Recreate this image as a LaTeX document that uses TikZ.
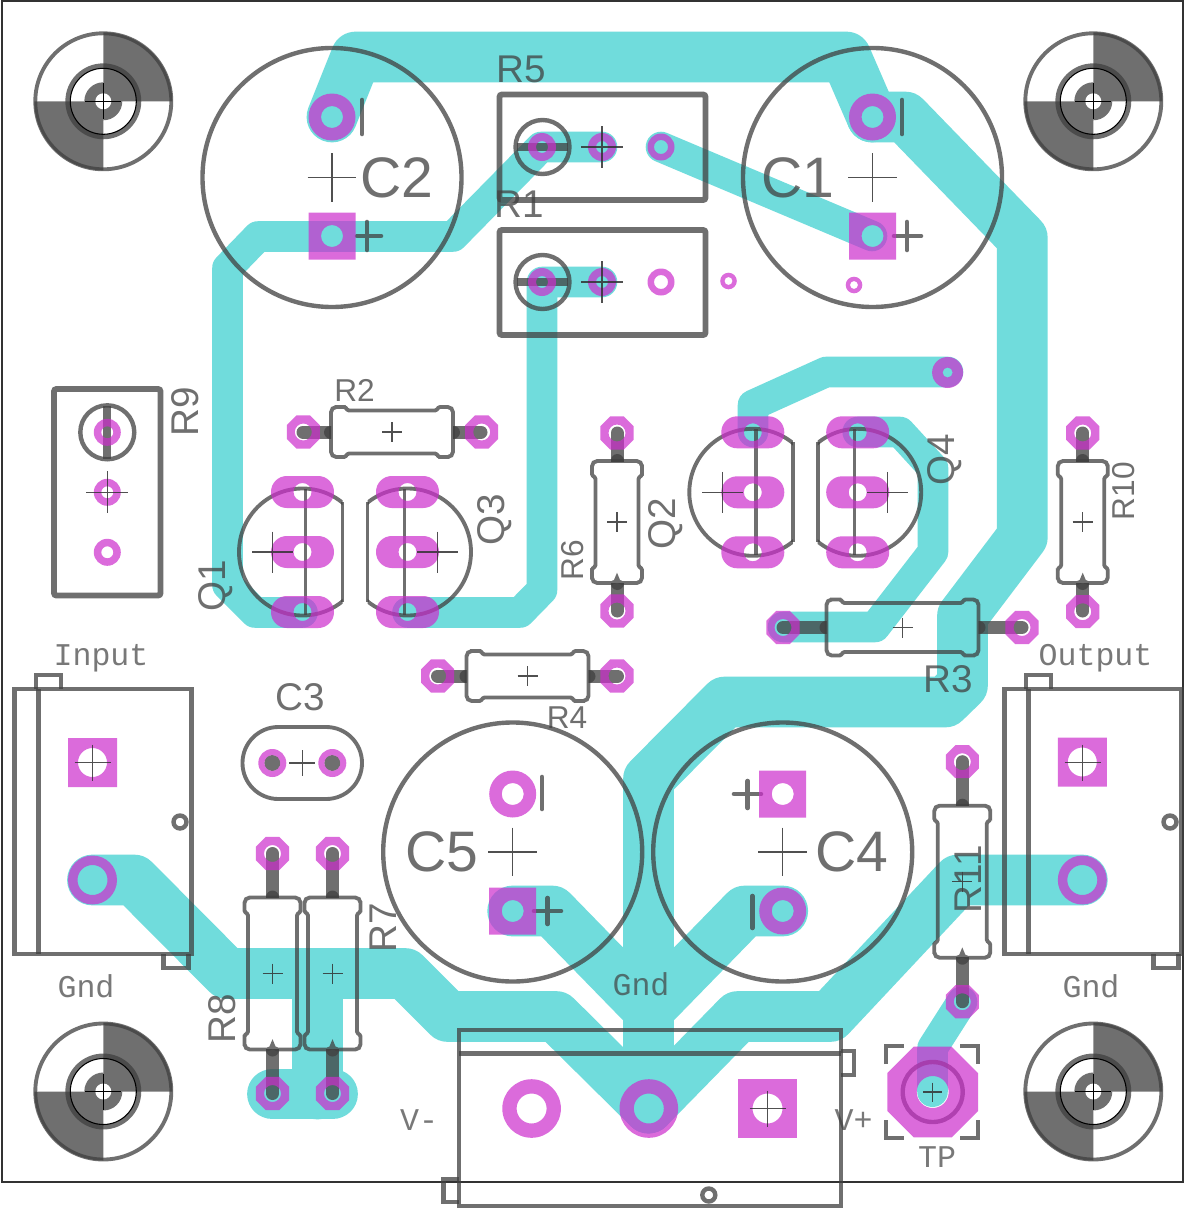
\documentclass[tikz,border=0pt]{standalone}
\usepackage{fontspec}
\setmainfont{Liberation Sans}
\newfontfamily\vecfont{Liberation Mono}
\definecolor{copperside}{RGB}{112,220,220}
\definecolor{padcolor}{RGB}{205,45,205}
\definecolor{silkgray}{RGB}{64,64,64}
\definecolor{crossgray}{RGB}{50,50,50}

\tikzset{
    tracewide/.style={draw=copperside, line width=28.9pt, line join=round, line cap=round},
    tracenarrow/.style={draw=copperside, line width=17.4pt, line join=round, line cap=round},
    padfill/.style={fill=padcolor, opacity=.7, even odd rule},
    silk/.style={draw=silkgray, line width=2.5pt, opacity=.75},
    silkfill/.style={fill=silkgray, opacity=.75},
    silklead/.style={draw=silkgray, line width=7.4pt, line cap=round, opacity=.75},
    silkmark/.style={draw=silkgray, line width=2.6pt, line cap=round, opacity=.75},
    crossline/.style={draw=crossgray, line width=.6pt, opacity=.85},
    bigref/.style={font=\fontsize{32.5}{34}\selectfont, text=silkgray, text opacity=.75, inner sep=0pt},
    midref/.style={font=\fontsize{22}{24}\selectfont, text=silkgray, text opacity=.75, inner sep=0pt},
    smallref/.style={font=\fontsize{18}{20}\selectfont, text=silkgray, text opacity=.75, inner sep=0pt},
    vecref/.style={font=\vecfont\fontsize{18}{20}\selectfont, text=silkgray, text opacity=.7, inner sep=0pt, anchor=base},
}

\newcommand{\padround}[4]{\fill[padfill] (#1,#2) circle[radius=#3] (#1,#2) circle[radius=#4];}
\newcommand{\padsquare}[4]{\fill[padfill] ({#1-#3},{#2-#3}) rectangle ({#1+#3},{#2+#3}) (#1,#2) circle[radius=#4];}
\newcommand{\padocta}[4]{\fill[padfill,shift={(#1,#2)}] (22.5:#3) -- (67.5:#3) -- (112.5:#3) -- (157.5:#3) -- (202.5:#3) -- (247.5:#3) -- (292.5:#3) -- (337.5:#3) -- cycle (0,0) circle[radius=#4];}
\newcommand{\padlong}[2]{\fill[padfill,rounded corners=9pt] ({#1-31.5},{#2-16}) rectangle ({#1+31.5},{#2+16}) (#1,#2) circle[radius=9];}
\newcommand{\crossmark}[3]{\draw[crossline] ({#1-#3},#2) -- ({#1+#3},#2) (#1,{#2-#3}) -- (#1,{#2+#3});}

% x, y, angle, half length, half width, pad distance
\newcommand{\resistorbody}[6]{
    \begin{scope}[shift={(#1,#2)},rotate=#3]
        \draw[silk,line width=2.2pt,rounded corners=3pt] (-#4,0) -- (-#4,-#5) -- ({-#4+9},-#5)
            [rounded corners=.6pt] -- ({-#4+14},-#5) -- ({-#4+17},{-#5+3.5}) -- ({#4-17},{-#5+3.5}) -- ({#4-14},-#5) -- ({#4-9},-#5)
            [rounded corners=3pt] -- (#4,-#5) -- (#4,#5) -- ({#4-9},#5)
            [rounded corners=.6pt] -- ({#4-14},#5) -- ({#4-17},{#5-3.5}) -- ({-#4+17},{#5-3.5}) -- ({-#4+14},#5) -- ({-#4+9},#5)
            [rounded corners=3pt] -- (-#4,#5) -- (-#4,0) -- cycle;
        \foreach \s in {1,-1}{
            \begin{scope}[xscale=\s]
                \clip (#4,-10) rectangle (#6+20,10);
                \draw[silklead] (#6,0) -- (#4,0);
                \draw[silklead] (#4,0) -- (#4+0.5,0);
            \end{scope}
        }
    \end{scope}
}

% x, y, side of the flat edge
\newcommand{\transistorbody}[3]{
    \begin{scope}[shift={(#1,#2)},xscale=#3]
        \begin{scope}
            \clip (-70,-70) rectangle (40,70);
            \draw[silk,line width=2.2pt] (0,0) circle[radius=63.5];
        \end{scope}
        \draw[silk,line width=2.2pt] (40,-50) -- (40,50);
        \draw[silk,line width=2pt] (3,-63) -- (3,63);
    \end{scope}
}

\begin{document}
\begin{tikzpicture}[x=0.02cm,y=-0.02cm]

    \useasboundingbox (0,0) rectangle (1184,1210);
    \fill[white] (0,0) rectangle (1184,1210);

    % copper
    \draw[tracewide] (332,117) -- (356,57) -- (846,57) -- (872,117);
    \draw[tracewide] (872,117) -- (905,117) -- (1022.3,238) -- (1022.3,537) -- (962.5,616) -- (962.5,685) -- (945,702) -- (725,702) -- (648.5,779) -- (648.5,1108);
    \draw[tracewide] (512.7,911) -- (552,911) -- (648.5,1010);
    \draw[tracewide] (782.7,911) -- (745,911) -- (648.5,1010);
    \draw[tracewide] (92.5,880) -- (134,880) -- (227,973.5) -- (405,973.5) -- (448,1016.5) -- (556,1016.5) -- (648.5,1108);
    \draw[tracewide] (1082.3,880) -- (958,880) -- (830,1016.5) -- (738,1016.5) -- (648.5,1108);
    \draw[tracewide] (317.5,973.5) -- (317.5,1094);
    \draw[tracewide] (272.5,1094) -- (332.5,1094);
    \draw[tracenarrow] (602,147) -- (541,147) -- (453,236.5) -- (258,236.5) -- (227.5,268) -- (227.5,585) -- (255,612.5) -- (302.5,612.5);
    \draw[tracenarrow] (602,282) -- (542,282) -- (542,590) -- (520,612.5) -- (407.5,612.5);
    \draw[tracenarrow] (661,147) -- (872,236);
    \draw[tracenarrow] (948,372) -- (826,372) -- (753,405) -- (753,432);
    \draw[tracenarrow] (857.7,432) -- (900,432) -- (933,468) -- (933,552) -- (875,627) -- (783,627);
    \draw[tracenarrow] (962,1001.7) -- (932.5,1048) -- (932.5,1091.7);

    % board edge
    \draw[crossgray,line width=.6pt] (2,1) rectangle (1183,1182);

    % mounting holes
    \foreach \x/\y in {103.3/101.3,1093.3/101.3,103.3/1091.5,1093.3/1091.5}{
        \begin{scope}[shift={(\x,\y)}]
            \begin{scope}
                \clip (0,-72) rectangle (72,0) (-72,0) rectangle (0,72);
                \fill[silkfill] (0,0) circle[radius=69];
            \end{scope}
            \begin{scope}
                \clip (-72,-72) rectangle (0,0) (0,0) rectangle (72,72);
                \fill[silkfill] (0,0) circle[radius=19];
            \end{scope}
            \fill[white] (0,0) circle[radius=8];
            \draw[silk,line width=2.2pt] (0,0) circle[radius=68];
            \draw[silk,line width=2.8pt] (0,0) circle[radius=35.5];
            \draw[black,line width=.6pt] (0,0) circle[radius=33];
            \draw[black,line width=.6pt] (-18,0) -- (18,0) (0,-18) -- (0,18);
        \end{scope}
    }

    % electrolytics
    \foreach \x/\y in {332/177.5,872.5/177.5,512.7/852,782.7/852}{
        \draw[silk] (\x,\y) circle[radius=129.5];
    }
    \draw[silkmark] (362,100) -- (362,134);
    \draw[silkmark] (357,236) -- (381,236) (367,222) -- (367,250);
    \draw[silkmark] (902,100) -- (902,134);
    \draw[silkmark] (894,236) -- (921,236) (907,222) -- (907,250);
    \draw[silkmark] (542,777) -- (542,809);
    \draw[silkmark] (534,911) -- (561,911) (547.7,898) -- (547.7,924);
    \draw[silkmark] (734,794) -- (761,794) (747.7,781) -- (747.7,808);
    \draw[silkmark] (752.3,896) -- (752.3,928);

    % trimmers
    \draw[silk,line width=3.4pt,rounded corners=1.5pt] (499.5,94.5) rectangle (705.5,200);
    \draw[silk,line width=3.4pt,rounded corners=1.5pt] (499.5,230) rectangle (705.5,335);
    \draw[silk,line width=3.4pt,rounded corners=1.5pt] (54,389) rectangle (160.5,595.5);
    \foreach \y in {147,282}{
        \draw[silk] (542.5,\y) circle[radius=27];
        \draw[silk,line width=4.5pt] (516.5,\y) -- (567.5,\y);
    }
    \draw[silk] (107.3,432.3) circle[radius=27];
    \draw[silk,line width=4.5pt] (107.3,406) -- (107.3,459);

    % resistors
    \resistorbody{392}{432}{0}{61}{25}{89}
    \resistorbody{527.5}{676}{0}{61}{25}{90}
    \resistorbody{617}{522}{90}{61}{25}{89}
    \resistorbody{1082.7}{522}{90}{61}{25}{89}
    \resistorbody{902.5}{627.5}{0}{76}{28}{119.5}
    \resistorbody{272.5}{973.5}{90}{76}{28}{120}
    \resistorbody{332.5}{973.5}{90}{76}{28}{120}
    \resistorbody{962.3}{881.7}{90}{76}{28}{120}

    % transistors
    \transistorbody{302.5}{552}{1}
    \transistorbody{407.5}{552}{-1}
    \transistorbody{752.8}{492.3}{1}
    \transistorbody{857.7}{492.3}{-1}

    % small capacitor
    \draw[silk,line width=2.2pt,rounded corners=20.4pt] (242.5,727) rectangle (362,799);
    \fill[silkfill] (272.3,763) circle[radius=8] (332.3,763) circle[radius=8];

    % screw terminals
    \foreach \x in {14.5,1004.5}{
        \begin{scope}[shift={(\x,0)}]
            \draw[silk] (0,689) rectangle (177,954);
            \draw[silk] (24,689) -- (24,954);
            \draw[silk] (21.5,689) -- (21.5,675) -- (46.5,675) -- (46.5,689);
            \draw[silk] (149,954) -- (149,968) -- (174,968) -- (174,954);
            \draw[silk] (165.5,822) circle[radius=6.5];
        \end{scope}
    }
    \draw[silk] (459,1030) rectangle (841,1206);
    \draw[silk] (459,1053.5) -- (841,1053.5);
    \draw[silk] (841,1051) -- (854,1051) -- (854,1075) -- (841,1075);
    \draw[silk] (459,1179) -- (443.5,1179) -- (443.5,1202) -- (459,1202);
    \draw[silk] (708.8,1195) circle[radius=6.5];

    % test point
    \draw[silk] (932.7,1092) circle[radius=30];
    \draw[silk] (886,1064) -- (886,1046) -- (904,1046);
    \draw[silk] (960,1046) -- (978,1046) -- (978,1064);
    \draw[silk] (886,1120) -- (886,1138) -- (904,1138);
    \draw[silk] (960,1138) -- (978,1138) -- (978,1120);

    % pads
    \padround{332}{117}{23.5}{11}
    \padsquare{332}{236}{23.5}{11}
    \padround{872.5}{117}{23.5}{11}
    \padsquare{872.5}{236}{23.5}{11}
    \padround{512.7}{794}{23.5}{11}
    \padsquare{512.7}{911}{23.5}{11}
    \padsquare{782.7}{794}{23.5}{11}
    \padround{782.7}{911}{23.5}{11}
    \foreach \y in {147,282}{
        \padround{542}{\y}{14}{6}
        \padround{602}{\y}{14}{6}
        \padround{661}{\y}{13.5}{7}
    }
    \foreach \y in {432.3,492.3,552.3}{
        \padround{107.3}{\y}{13.5}{6}
    }
    \padround{728.5}{281}{8.3}{4}
    \padround{854}{285}{8.3}{4}
    \padround{947.6}{372.5}{15.5}{5}
    \foreach \x/\y in {302.5/492,302.5/552,302.5/612,407.5/492,407.5/552,407.5/612,752.8/432.3,752.8/492.3,752.8/552.3,857.7/432.3,857.7/492.3,857.7/552.3}{
        \padlong{\x}{\y}
    }
    \foreach \x/\y in {303.3/432,481.7/432,437.7/676,617/676,617/433,617/611,1082.7/433,1082.7/611.7,783/627.5,1022/627.5,272.5/853.5,332.5/853.5,272.5/1093.5,332.5/1093.5,962.3/761.7,962.3/1001.7}{
        \padocta{\x}{\y}{17.9}{8.5}
    }
    \padround{272.3}{763}{14}{8}
    \padround{332.3}{763}{14}{8}
    \padsquare{92.5}{762.5}{24.5}{14.5}
    \padround{92.5}{880}{24.5}{15}
    \padsquare{1082.3}{762}{24.5}{14.5}
    \padround{1082.3}{880}{24.5}{15}
    \padround{531.6}{1108.5}{29.3}{15}
    \padround{648.8}{1108.5}{29.3}{15}
    \padsquare{767.5}{1108.5}{29.3}{15}
    \padocta{932.7}{1092}{49.2}{16}

    % centre marks
    \foreach \x/\y in {332/177.5,872.5/177.5,512.7/852,782.7/852}{
        \crossmark{\x}{\y}{24.3}
    }
    \foreach \x/\y in {602/147,602/282,107.3/492.3}{
        \crossmark{\x}{\y}{21}
    }
    \foreach \x/\y in {392/432,527.5/676,617/522,1082.7/522,902.5/627.5,272.5/973.5,332.5/973.5,962.3/881.7}{
        \crossmark{\x}{\y}{10}
    }
    \foreach \x/\y in {272.5/552,437.5/552,722.8/492.3,887.7/492.3}{
        \crossmark{\x}{\y}{20.5}
    }
    \foreach \x/\y in {92.5/762.5,1082.5/762.5,767.5/1108.5}{
        \crossmark{\x}{\y}{18}
    }
    \crossmark{302.3}{763}{13}
    \crossmark{932.7}{1092}{9.5}

    % labels
    \node[bigref] (labelC2) at (397,177.5) {C2};
    \node[bigref] (labelC1) at (798,177.5) {C1};
    \node[bigref] (labelC5) at (442,852) {C5};
    \node[bigref] (labelC4) at (852,852) {C4};
    \node[midref] (labelC3) at (300,697.5) {C3};
    \node[midref] (labelR5) at (521,69) {R5};
    \node[midref] (labelR1) at (519,204) {R1};
    \node[midref] (labelR3) at (948,679) {R3};
    \node[smallref] (labelR2) at (354.5,390) {R2};
    \node[smallref] (labelR4) at (567,718) {R4};
    \node[smallref,rotate=90] (labelR6) at (573,560) {R6};
    \node[midref,rotate=90] (labelR7) at (383,928) {R7};
    \node[midref,rotate=90] (labelR8) at (222,1019) {R8};
    \node[midref,rotate=90] (labelR9) at (185,412) {R9};
    \node[smallref,rotate=90] (labelR10) at (1124,491) {R10};
    \node[midref,rotate=90] (labelR11) at (968,879) {R11};
    \node[midref,rotate=90] (labelQ1) at (216,586) {Q1};
    \node[midref,rotate=90] (labelQ2) at (666,524) {Q2};
    \node[midref,rotate=90] (labelQ3) at (495,520) {Q3};
    \node[midref,rotate=90] (labelQ4) at (945,460) {Q4};
    \node[vecref] (labelInput) at (101,665.5) {Input};
    \node[vecref] (labelOutput) at (1095.5,665) {Output};
    \node[vecref] (labelGndA) at (86,997) {Gnd};
    \node[vecref] (labelGndB) at (1091,997) {Gnd};
    \node[vecref] (labelGndC) at (641,995) {Gnd};
    \node[vecref] (labelVminus) at (419,1130) {V-};
    \node[vecref] (labelVplus) at (853.7,1130) {V+};
    \node[vecref] (labelTP) at (937,1167) {TP};

\end{tikzpicture}
\end{document}
